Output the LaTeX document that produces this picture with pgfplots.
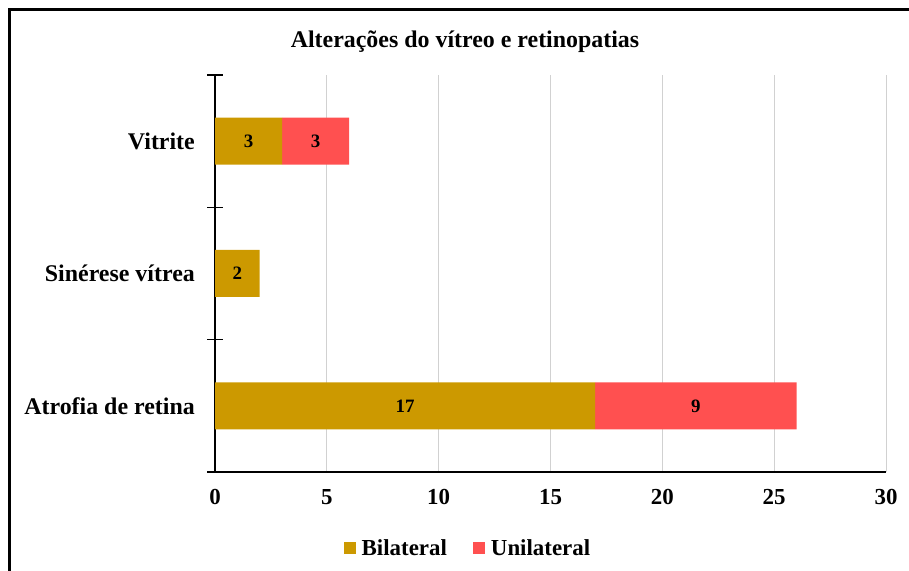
\documentclass[border=0pt]{standalone}
\usepackage{pgfplots}
\pgfplotsset{compat=1.18}
\usepackage{fontspec}
\setmainfont{Liberation Serif}
\definecolor{bil}{RGB}{204,153,0}
\definecolor{uni}{RGB}{255,80,80}
\begin{document}
\begin{tikzpicture}[x=1bp,y=1bp]
\useasboundingbox (0,0) rectangle (909,571);
\draw[overlay, line width=3bp] (9.5,-20) -- (9.5,561.5) -- (930,561.5);
\node[font=\bfseries\fontsize{24}{28}\selectfont] at (465,529) {Alterações do vítreo e retinopatias};
\begin{axis}[
 at={(215bp,99bp)}, anchor=south west,
 scale only axis, width=671bp, height=397bp,
 xbar stacked, bar width=47bp,
 xmin=0, xmax=30, ymin=-0.5, ymax=2.5,
 xtick={0,5,...,30}, ytick={0,1,2},
 yticklabels={Atrofia de retina, Sinérese vítrea, Vitrite},
 extra y ticks={-0.5,0.5,1.5,2.5}, extra y tick labels={},
 extra y tick style={major tick length=16bp, tick align=center, tick style={black, line width=1.4bp}},
 major tick length=0pt,
 axis x line*=bottom, axis y line*=left,
 axis line style={black, line width=1.2bp},
 xmajorgrids, grid style={black!18, line width=0.8bp},
 /pgf/number format/assume math mode=true,
 tick label style={font=\bfseries\fontsize{23}{27}\selectfont},
 yticklabel style={anchor=east, inner sep=0pt, xshift=-20bp, font=\bfseries\fontsize{24}{28}\selectfont},
 xticklabel style={anchor=north, inner sep=0pt, yshift=-17bp},
 point meta=rawx,
 nodes near coords={\pgfmathfloatifflags{\pgfplotspointmeta}{0}{}{\pgfmathprintnumber{\pgfplotspointmeta}}},
 every node near coord/.append style={font=\bfseries\fontsize{19}{22}\selectfont, black},
 legend style={at={(0.377,-0.1914)}, anchor=center, draw=none, fill=none,
   legend columns=-1, font=\bfseries\fontsize{23}{27}\selectfont,
   /tikz/every odd column/.append style={column sep=4bp},
   /tikz/every even column/.append style={column sep=24bp}},
 legend image code/.code={\fill[#1] (0bp,-6bp) rectangle (12bp,6bp);},
]
\addplot[fill=bil, draw=none] coordinates {(17,0) (2,1) (3,2)};
\addplot[fill=uni, draw=none] coordinates {(9,0) (0,1) (3,2)};
\legend{Bilateral, Unilateral}
\end{axis}
\end{tikzpicture}
\end{document}
